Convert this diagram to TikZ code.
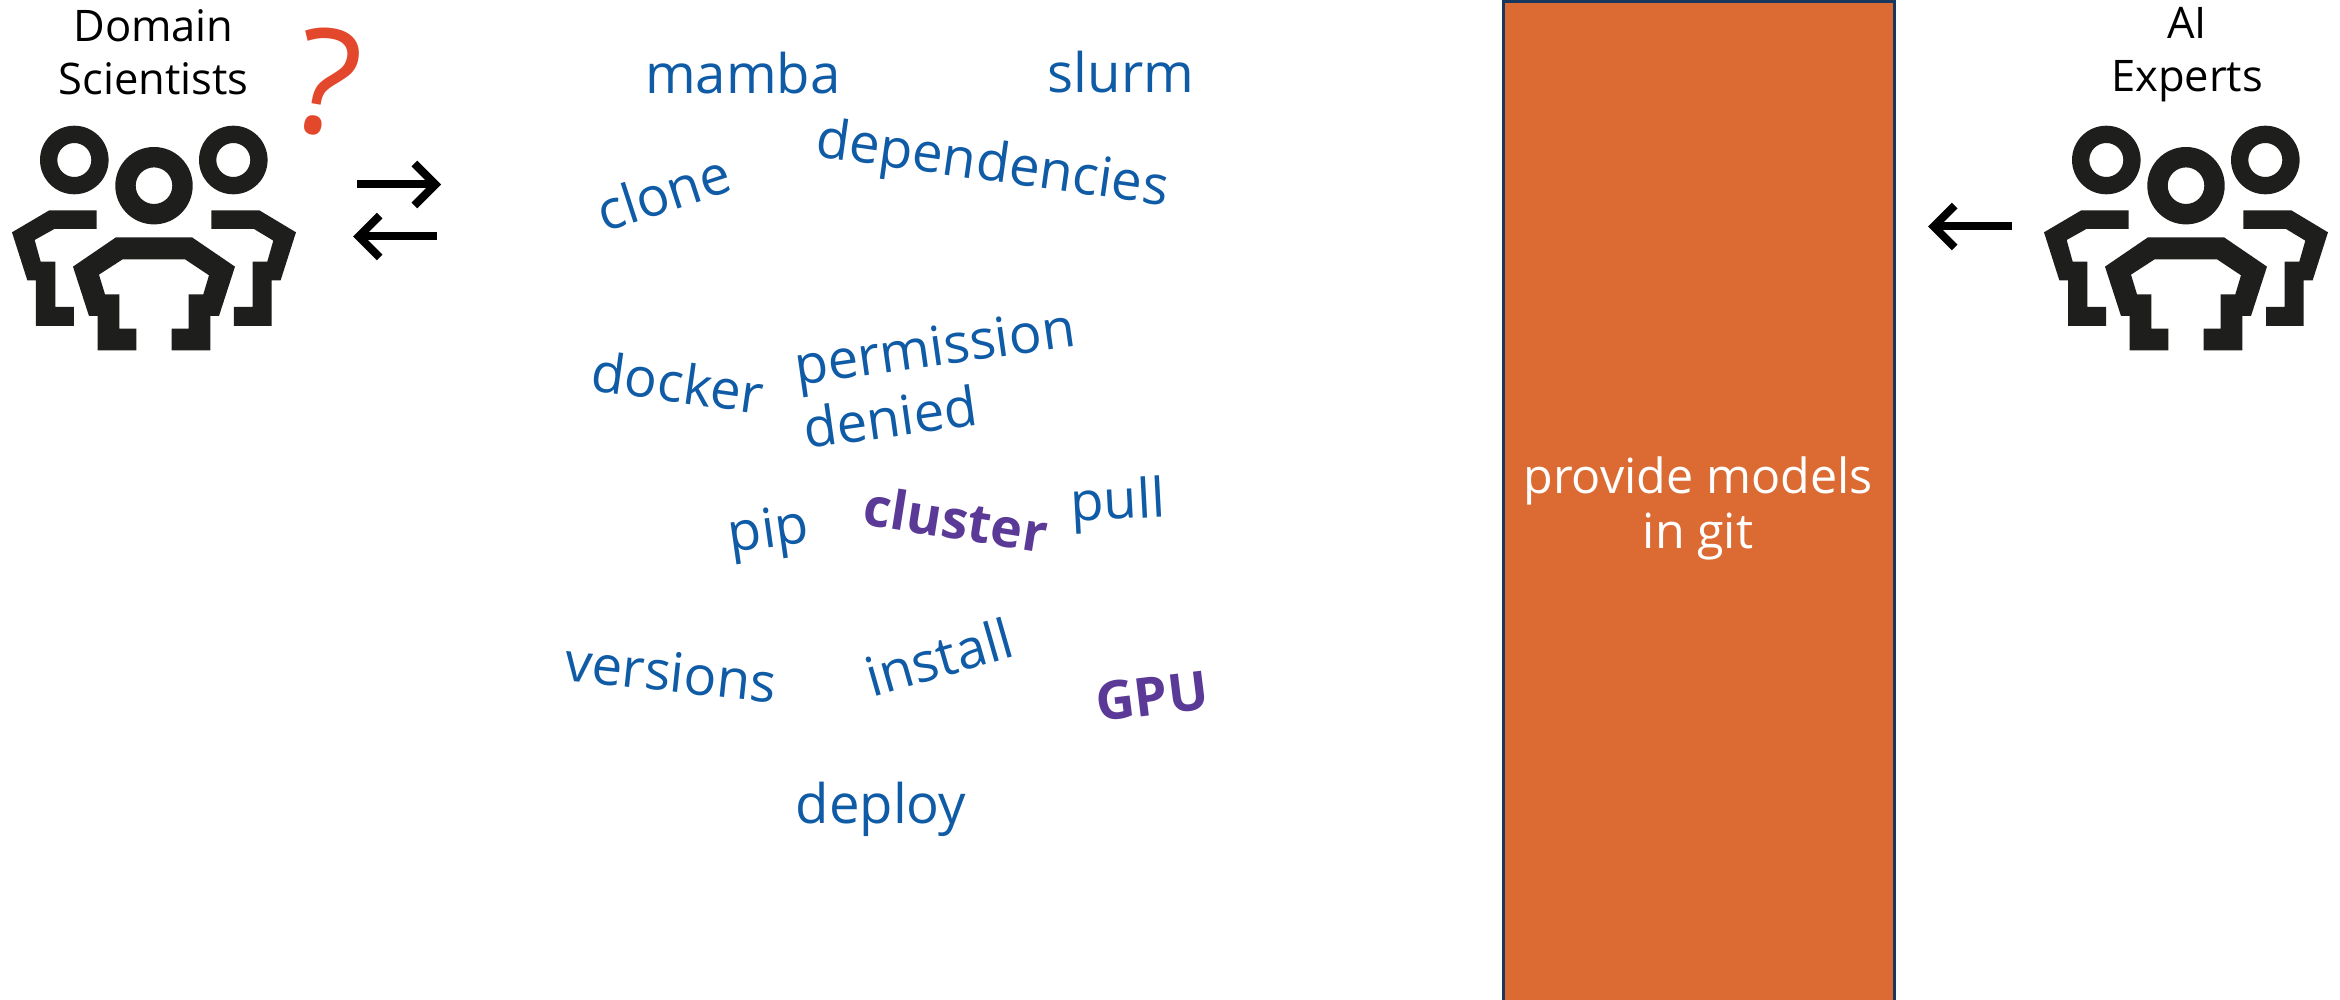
\documentclass[tikz,border=0pt]{standalone}
\usepackage{fontspec}
\setmainfont{Open Sans}
\usetikzlibrary{arrows.meta}
\definecolor{wordblue}{HTML}{0F5BA6}
\definecolor{wordpurple}{HTML}{5A3A96}
\definecolor{boxfill}{HTML}{DC6B33}
\definecolor{boxline}{HTML}{17375E}
\definecolor{qred}{HTML}{E3472C}
\definecolor{iconblack}{HTML}{1E1E1C}
\tikzset{
  word/.style={text=wordblue,font=\fontsize{54.5}{64}\selectfont,inner sep=0pt,align=left},
  boldword/.style={text=wordpurple,font=\fontsize{53.5}{60}\selectfont\bfseries,inner sep=0pt},
  caption/.style={font=\fontsize{43.5}{53}\selectfont,align=center,inner sep=0pt},
  flow/.style={line width=8pt,-{Straight Barb[length=21pt,width=42pt,line width=8pt]}},
  people/.pic={
    \fill[iconblack,even odd rule] (74.3,-160) circle (34.3) (74.3,-160) circle (17);
    \fill[iconblack,even odd rule] (154,-185.7) circle (38.7) (154,-185.7) circle (18.3);
    \fill[iconblack,even odd rule] (233.3,-160) circle (34.3) (233.3,-160) circle (17);
    \fill[iconblack,x=0.3333pt,y=-0.3333pt] (290,631)--(148,631)--(36,697)--(82,841)--(108,841)--(108,978)--(222,978)--(222,921)--(166,921)--(166,785)--(122,785)--(104,720)--(163,687)--(290,687)--cycle;
    \fill[iconblack,x=0.3333pt,y=-0.3333pt] (634,631)--(778,631)--(888,697)--(842,841)--(815,841)--(815,978)--(702,978)--(702,921)--(758,921)--(758,785)--(802,785)--(820,722)--(762,687)--(634,687)--cycle;
    \fill[iconblack,x=0.3333pt,y=-0.3333pt] (348,712)--(576,712)--(705,800)--(657,948)--(631,948)--(631,1051)--(515,1051)--(515,986)--(566,986)--(566,883)--(610,883)--(627,826)--(555,778)--(368,778)--(297,824)--(315,883)--(358,883)--(358,986)--(409,986)--(409,1051)--(293,1051)--(293,948)--(267,948)--(219,800)--cycle;
  }
}
\begin{document}
\begin{tikzpicture}[x=1pt,y=1pt]
\useasboundingbox (0,0) rectangle (2340,-1000);
\fill[white] (0,0) rectangle (2340,-1000);
\pic (leftpeople) at (0,0) {people};
\pic (rightpeople) at (2032,0) {people};
\node[caption] (domain) at (153.5,-52) {Domain\\Scientists};
\node[caption] (experts) at (2187,-55) {AI\\Experts};
\node[text=qred,font=\fontsize{147}{147}\selectfont,inner sep=0pt,rotate=-10] (q) at (327,-83) {?};
\coordinate (a1s) at (357,-184.5);
\coordinate (a1e) at (441,-184.5);
\coordinate (a2s) at (437,-236.5);
\coordinate (a2e) at (353,-236.5);
\coordinate (a3s) at (2012,-226.5);
\coordinate (a3e) at (1928,-226.5);
\draw[flow] (a1s) -- (a1e);
\draw[flow] (a2s) -- (a2e);
\draw[flow] (a3s) -- (a3e);
\node[word] (mamba) at (743,-73) {mamba};
\node[word] (slurm) at (1121,-72) {slurm};
\node[word,rotate=18] (clone) at (663,-192) {clone};
\node[word,rotate=-8] (dependencies) at (992,-167) {dependencies};
\node[word,rotate=-8] (docker) at (678,-382) {docker};
\node[word,rotate=8] (permission) at (939,-378) {permission\\denied};
\node[word,rotate=8] (pip) at (769,-534) {pip};
\node[boldword,rotate=-9] (cluster) at (956,-519) {cluster};
\node[word,rotate=3] (pull) at (1118,-505) {pull};
\node[word,rotate=-6] (versions) at (671,-672) {versions};
\node[word,rotate=16] (install) at (939,-657) {install};
\node[boldword,rotate=7] (gpu) at (1152,-696) {GPU};
\node[word] (deploy) at (881,-809) {deploy};
\node[draw=boxline,fill=boxfill,line width=3pt,minimum width=391pt,minimum height=1010pt,inner sep=0pt,anchor=north west] (box) at (1502,0) {};
\node[caption,text=white,font=\fontsize{48.4}{55}\selectfont] (boxlabel) at (1698,-508) {provide models\\in git};
\end{tikzpicture}
\end{document}
